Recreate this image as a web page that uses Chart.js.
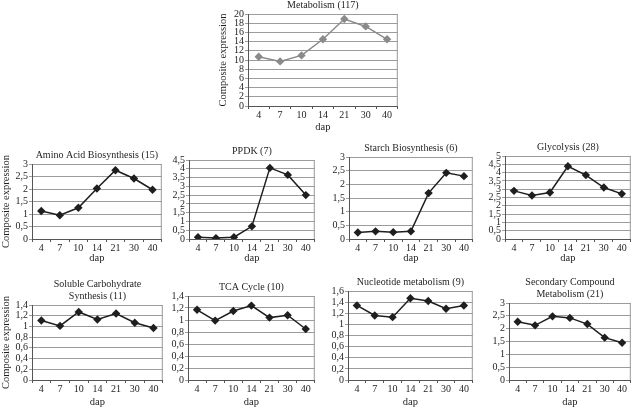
<!DOCTYPE html>
<html>
<head>
<meta charset="utf-8">
<script src="https://cdn.jsdelivr.net/npm/chart.js@4.4.0/dist/chart.umd.min.js"></script>
<style>
  body { margin: 0; background: #fff; width: 638px; height: 410px; position: relative; overflow: hidden; }
  .box { position: absolute; }
</style>
</head>
<body>
<script>
// x categories (days after pollination)
const DAP = ['4', '7', '10', '14', '21', '30', '40'];

// composite expression per group
const METABOLISM = [10.7, 9.7, 11.0, 14.5, 18.9, 17.3, 14.5];
const AMINO_ACID = [1.12, 0.95, 1.25, 2.02, 2.75, 2.42, 1.97];
const PPDK = [0.1, 0.05, 0.1, 0.72, 4.05, 3.65, 2.5];
const STARCH = [0.24, 0.28, 0.25, 0.28, 1.68, 2.42, 2.3];
const GLYCOLYSIS = [2.9, 2.62, 2.8, 4.38, 3.85, 3.1, 2.72];
const SOLUBLE_CARB = [1.11, 1.01, 1.27, 1.13, 1.24, 1.07, 0.97];
const TCA = [1.17, 0.99, 1.15, 1.24, 1.04, 1.08, 0.85];
const NUCLEOTIDE = [1.34, 1.16, 1.13, 1.47, 1.42, 1.28, 1.34];
const SECONDARY = [2.27, 2.13, 2.48, 2.42, 2.18, 1.65, 1.45];

const FONT = 'Liberation Serif';

// plot: [left, right, top, bottom] of the plot area in page pixels
const panels = [
  { title: 'Metabolism (117)', data: METABOLISM, max: 20, step: 2, plot: [248, 402, 14, 106], yTitle: true, yw: 31, xh: 28, color: '#8a8a8a' },
  { title: 'Amino Acid Biosynthesis (15)', data: AMINO_ACID, max: 3, step: 0.5, plot: [32, 166, 164, 239], yTitle: true, yw: 32, xh: 26 },
  { title: 'PPDK (7)', data: PPDK, max: 4.5, step: 0.5, plot: [189, 319, 160, 239], xh: 26 },
  { title: 'Starch Biosynthesis (6)', data: STARCH, max: 3, step: 0.5, plot: [349, 477, 157, 239], xh: 26 },
  { title: 'Glycolysis (28)', data: GLYCOLYSIS, max: 5, step: 0.5, plot: [505, 635, 156, 239], xh: 26 },
  { title: ['Soluble Carbohydrate', 'Synthesis (11)'], data: SOLUBLE_CARB, max: 1.4, step: 0.2, plot: [32, 167, 305, 380], yTitle: true, yw: 32, xh: 29 },
  { title: 'TCA Cycle (10)', data: TCA, max: 1.4, step: 0.2, plot: [188, 319, 296, 380], xh: 29 },
  { title: 'Nucleotide metabolism (9)', data: NUCLEOTIDE, max: 1.6, step: 0.2, plot: [348, 477, 291, 380], xh: 29 },
  { title: ['Secondary Compound', 'Metabolism (21)'], data: SECONDARY, max: 3, step: 0.5, plot: [509, 635, 303, 380], xh: 29 }
];

// right edge of the plot box
const frameRight = {
  id: 'frameRight',
  beforeDatasetsDraw(chart) {
    const a = chart.chartArea;
    const c = chart.ctx;
    c.save();
    c.strokeStyle = '#999';
    c.lineWidth = 1;
    c.beginPath();
    c.moveTo(a.right - 0.5, a.top);
    c.lineTo(a.right - 0.5, a.bottom);
    c.stroke();
    c.restore();
  }
};

function makeChart(p) {
  let lines = Array.isArray(p.title) ? p.title.length : 1;
  let titleH = lines * 12 + 3;
  let yw = p.yw || 22;
  let [x0, x1, top, bottom] = p.plot;
  let left = x0 - yw;
  let boxTop = top - titleH;
  let width = x1 - left;
  let height = bottom + p.xh - boxTop;

  let div = document.createElement('div');
  div.className = 'box';
  div.style.left = left + 'px';
  div.style.top = boxTop + 'px';
  div.style.width = width + 'px';
  div.style.height = height + 'px';
  let canvas = document.createElement('canvas');
  div.appendChild(canvas);
  document.body.appendChild(div);

  let color = p.color || '#1e1e1e';

  new Chart(canvas, {
    type: 'line',
    data: {
      labels: DAP,
      datasets: [{
        data: p.data,
        borderColor: color,
        backgroundColor: color,
        borderWidth: 1.5,
        pointStyle: 'rectRot',
        pointRadius: 4.2,
        pointBorderWidth: 0,
        tension: 0
      }]
    },
    options: {
      responsive: true,
      maintainAspectRatio: false,
      animation: false,
      layout: { padding: 0 },
      plugins: {
        legend: { display: false },
        tooltip: { enabled: false },
        title: {
          display: true,
          text: p.title,
          fullSize: false,
          color: '#1e1e1e',
          font: { family: FONT, size: 10, weight: 'normal', lineHeight: 1.2 },
          padding: { top: 0, bottom: 3 }
        }
      },
      scales: {
        x: {
          offset: true,
          grid: { drawOnChartArea: false, drawTicks: true, tickLength: 3, color: '#555', offset: true },
          border: { color: '#555' },
          ticks: { color: '#1e1e1e', font: { family: FONT, size: 10 }, padding: 0, maxRotation: 0, autoSkip: false },
          title: { display: true, text: 'dap', color: '#1e1e1e', font: { family: FONT, size: 10.5, lineHeight: 1.2 }, padding: 0 },
          afterFit: (s) => { s.height = p.xh; }
        },
        y: {
          min: 0,
          max: p.max,
          grid: { color: '#9c9c9c', tickLength: 3, drawTicks: true },
          border: { color: '#555' },
          ticks: {
            stepSize: p.step,
            autoSkip: false,
            color: '#1e1e1e',
            padding: 1,
            font: { family: FONT, size: 10 },
            callback: (v) => String(+v.toFixed(1)).replace('.', ',')
          },
          title: {
            display: !!p.yTitle,
            text: 'Composite expression',
            color: '#1e1e1e',
            font: { family: FONT, size: 10.5, lineHeight: 1.2 },
            padding: 0
          },
          afterFit: (s) => { s.width = yw; }
        }
      }
    },
    plugins: [frameRight]
  });
}

panels.forEach(makeChart);
</script>
</body>
</html>
